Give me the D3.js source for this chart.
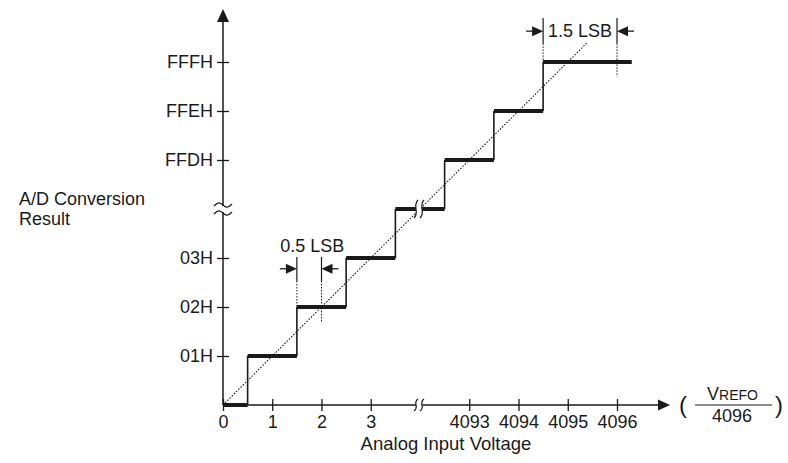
<!DOCTYPE html>
<html>
<head>
<meta charset="utf-8">
<script src="https://cdn.jsdelivr.net/npm/d3@7"></script>
<style>
  body { margin: 0; background: #fff; }
  text { font-family: "Liberation Sans", Arial, Helvetica, sans-serif; fill: #1a1a1a; }
</style>
</head>
<body>
<svg id="chart" width="788" height="463"></svg>
<script>
// x axis slots (slot 4 is where the axis is broken)
const xTickSlots = [0, 1, 2, 3, 5, 6, 7, 8];
const xTickLabels = ["0", "1", "2", "3", "4093", "4094", "4095", "4096"];
// y axis slots (slot 4 is the break)
const yTickSlots = [1, 2, 3, 5, 6, 7];
const yTickLabels = ["01H", "02H", "03H", "FFDH", "FFEH", "FFFH"];

// staircase: output code slot and the input range it covers
const stepCode = [0, 1, 2, 3, 4, 5, 6, 7];
const stepFrom = [0, 0.5, 1.5, 2.5, 3.5, 4.5, 5.5, 6.5];
const stepTo   = [0.5, 1.5, 2.5, 3.5, 4.5, 5.5, 6.5, 8.3];

// ideal transfer line
const idealX = [0, 7.4];
const idealY = [0, 7.4];

const breakSlot = 4;

// error annotations
const dimLabels = ["0.5 LSB", "1.5 LSB"];
const dimFrom   = [1.5, 6.5];
const dimTo     = [2, 8];
const dimTop    = [3.02, 7.9];
const dimArrow  = [2.78, 7.63];
const dimBaseFrom = [2, 7];
const dimBaseTo   = [1.67, 6.7];

const ink = "#1a1a1a";
const svg = d3.select("#chart");

const x = d3.scaleLinear().domain([0, 8]).range([223, 617]);
const y = d3.scaleLinear().domain([0, 7]).range([405, 62]);

//axes
let gx = svg.append("g")
    .attr("transform", "translate(0," + y(0) + ")")
    .call(d3.axisBottom(x).tickValues(xTickSlots)
        .tickFormat((d, i) => xTickLabels[i]).tickSize(6).tickPadding(4));
gx.select(".domain").remove();
gx.selectAll(".tick line").attr("y1", -6).attr("stroke", ink).attr("stroke-width", 1.3);
gx.selectAll(".tick text").style("font-size", "18px").attr("fill", ink);

let gy = svg.append("g")
    .attr("transform", "translate(" + x(0) + ",0)")
    .call(d3.axisLeft(y).tickValues(yTickSlots)
        .tickFormat((d, i) => yTickLabels[i]).tickSize(6).tickPadding(4));
gy.select(".domain").remove();
gy.selectAll(".tick line").attr("x1", 6).attr("stroke", ink).attr("stroke-width", 1.3);
gy.selectAll(".tick text").style("font-size", "18px").attr("fill", ink);

// axis lines with arrow heads
svg.append("line")
    .attr("x1", x(0)).attr("x2", 660)
    .attr("y1", y(0)).attr("y2", y(0))
    .attr("stroke", ink).attr("stroke-width", 1.5);
svg.append("path")
    .attr("d", "M670," + y(0) + "L658," + (y(0) - 5.5) + "L658," + (y(0) + 5.5) + "Z")
    .attr("fill", ink);
svg.append("line")
    .attr("x1", x(0)).attr("x2", x(0))
    .attr("y1", y(0)).attr("y2", 20)
    .attr("stroke", ink).attr("stroke-width", 1.5);
svg.append("path")
    .attr("d", "M" + x(0) + ",9L" + (x(0) - 6) + ",22L" + (x(0) + 6) + ",22Z")
    .attr("fill", ink);

// ideal line (dotted)
svg.append("line")
    .attr("x1", x(idealX[0])).attr("y1", y(idealY[0]))
    .attr("x2", x(idealX[1])).attr("y2", y(idealY[1]))
    .attr("stroke", ink).attr("stroke-width", 1.1)
    .attr("stroke-dasharray", "1.5,1.6");

// staircase
let steps = stepCode.map((c, i) => ({code: c, from: stepFrom[i], to: stepTo[i]}));
svg.append("g").selectAll("line")
    .data(steps.slice(0, -1))
    .enter().append("line")
    .attr("x1", d => x(d.to)).attr("x2", d => x(d.to))
    .attr("y1", d => y(d.code)).attr("y2", d => y(d.code + 1))
    .attr("stroke", ink).attr("stroke-width", 1.6);
svg.append("g").selectAll("line")
    .data(steps)
    .enter().append("line")
    .attr("x1", d => x(d.from)).attr("x2", d => x(d.to))
    .attr("y1", d => y(d.code)).attr("y2", d => y(d.code))
    .attr("stroke", ink).attr("stroke-width", 4);

// break marks
function sBreak(cx, cy, h, gap) {
    let g = svg.append("g");
    let curve = (dx) => "M" + (cx + dx + 2) + "," + (cy - h) +
        "C" + (cx + dx - 4) + "," + (cy - h / 3) + " " + (cx + dx + 4) + "," + (cy + h / 3) + " " +
        (cx + dx - 2) + "," + (cy + h);
    g.append("path")
        .attr("d", "M" + (cx - gap + 2) + "," + (cy - h) +
            "C" + (cx - gap - 4) + "," + (cy - h / 3) + " " + (cx - gap + 4) + "," + (cy + h / 3) + " " +
            (cx - gap - 2) + "," + (cy + h) +
            "L" + (cx + gap - 2) + "," + (cy + h) +
            "C" + (cx + gap + 4) + "," + (cy + h / 3) + " " + (cx + gap - 4) + "," + (cy - h / 3) + " " +
            (cx + gap + 2) + "," + (cy - h) + "Z")
        .attr("fill", "#fff");
    g.append("path").attr("d", curve(-gap)).attr("fill", "none").attr("stroke", ink).attr("stroke-width", 1.2);
    g.append("path").attr("d", curve(gap)).attr("fill", "none").attr("stroke", ink).attr("stroke-width", 1.2);
}
function tildeBreak(cx, cy, w, gap) {
    let g = svg.append("g");
    let wave = (dy) => "M" + (cx - w) + "," + (cy + dy + 1) +
        "C" + (cx - w / 2) + "," + (cy + dy - 4) + " " + (cx - w / 4) + "," + (cy + dy - 2) + " " + cx + "," + (cy + dy) +
        "S" + (cx + w / 2) + "," + (cy + dy + 4) + " " + (cx + w) + "," + (cy + dy - 1);
    g.append("rect")
        .attr("x", cx - 3).attr("y", cy - gap + 1)
        .attr("width", 6).attr("height", gap * 2 - 2)
        .attr("fill", "#fff");
    g.append("path").attr("d", wave(-gap)).attr("fill", "none").attr("stroke", ink).attr("stroke-width", 1.2);
    g.append("path").attr("d", wave(gap)).attr("fill", "none").attr("stroke", ink).attr("stroke-width", 1.2);
}
sBreak(x(breakSlot) - 1, y(0), 6, 3);
sBreak(x(breakSlot) - 1, y(breakSlot), 9, 3);
tildeBreak(x(0), y(breakSlot), 9, 4);

// error dimension marks
dimLabels.forEach((lab, i) => {
    let g = svg.append("g");
    let xa = x(dimFrom[i]), xb = x(dimTo[i]);
    let ya = y(dimArrow[i]);
    let solidEnd = y(dimArrow[i] - 0.25);
    [[xa, dimBaseFrom[i]], [xb, dimBaseTo[i]]].forEach(([xx, base]) => {
        g.append("line").attr("x1", xx).attr("x2", xx)
            .attr("y1", y(dimTop[i])).attr("y2", solidEnd)
            .attr("stroke", ink).attr("stroke-width", 1.2);
        g.append("line").attr("x1", xx).attr("x2", xx)
            .attr("y1", solidEnd).attr("y2", y(base))
            .attr("stroke", ink).attr("stroke-width", 1)
            .attr("stroke-dasharray", "1.5,1.5");
    });
    // arrows pointing inward
    g.append("line").attr("x1", xa - 17).attr("x2", xa - 8).attr("y1", ya).attr("y2", ya)
        .attr("stroke", ink).attr("stroke-width", 1.3);
    g.append("path").attr("d", "M" + xa + "," + ya + "L" + (xa - 11) + "," + (ya - 5) + "L" + (xa - 11) + "," + (ya + 5) + "Z")
        .attr("fill", ink);
    g.append("line").attr("x1", xb + 8).attr("x2", xb + 17).attr("y1", ya).attr("y2", ya)
        .attr("stroke", ink).attr("stroke-width", 1.3);
    g.append("path").attr("d", "M" + xb + "," + ya + "L" + (xb + 11) + "," + (ya - 5) + "L" + (xb + 11) + "," + (ya + 5) + "Z")
        .attr("fill", ink);
    let label = g.append("text")
        .attr("text-anchor", "middle")
        .style("font-size", "18px")
        .text(lab);
    if (i == 0) {
        label.attr("x", (xa + xb) / 2 + 3).attr("y", y(dimTop[i]) - 5);
    } else {
        label.attr("x", (xa + xb) / 2).attr("y", ya + 6);
    }
});

// axis titles
svg.append("text")
    .attr("x", 19).attr("y", 205)
    .style("font-size", "18px")
    .text("A/D Conversion");
svg.append("text")
    .attr("x", 19).attr("y", 225)
    .style("font-size", "18px")
    .text("Result");
svg.append("text")
    .attr("x", 446).attr("y", 450)
    .attr("text-anchor", "middle")
    .style("font-size", "18.5px")
    .text("Analog Input Voltage");

// unit: ( VREFO / 4096 )
let unit = svg.append("g");
unit.append("text").attr("x", 679).attr("y", 413).style("font-size", "24px").text("(");
unit.append("text").attr("x", 775).attr("y", 413).style("font-size", "24px").text(")");
let vref = unit.append("text").attr("x", 707).attr("y", 400);
vref.append("tspan").style("font-size", "18px").text("V");
vref.append("tspan").style("font-size", "14px").text("REFO");
unit.append("line")
    .attr("x1", 695).attr("x2", 772).attr("y1", 405).attr("y2", 405)
    .attr("stroke", ink).attr("stroke-width", 1.2);
unit.append("text").attr("x", 732).attr("y", 422)
    .attr("text-anchor", "middle").style("font-size", "18px").text("4096");
</script>
</body>
</html>
